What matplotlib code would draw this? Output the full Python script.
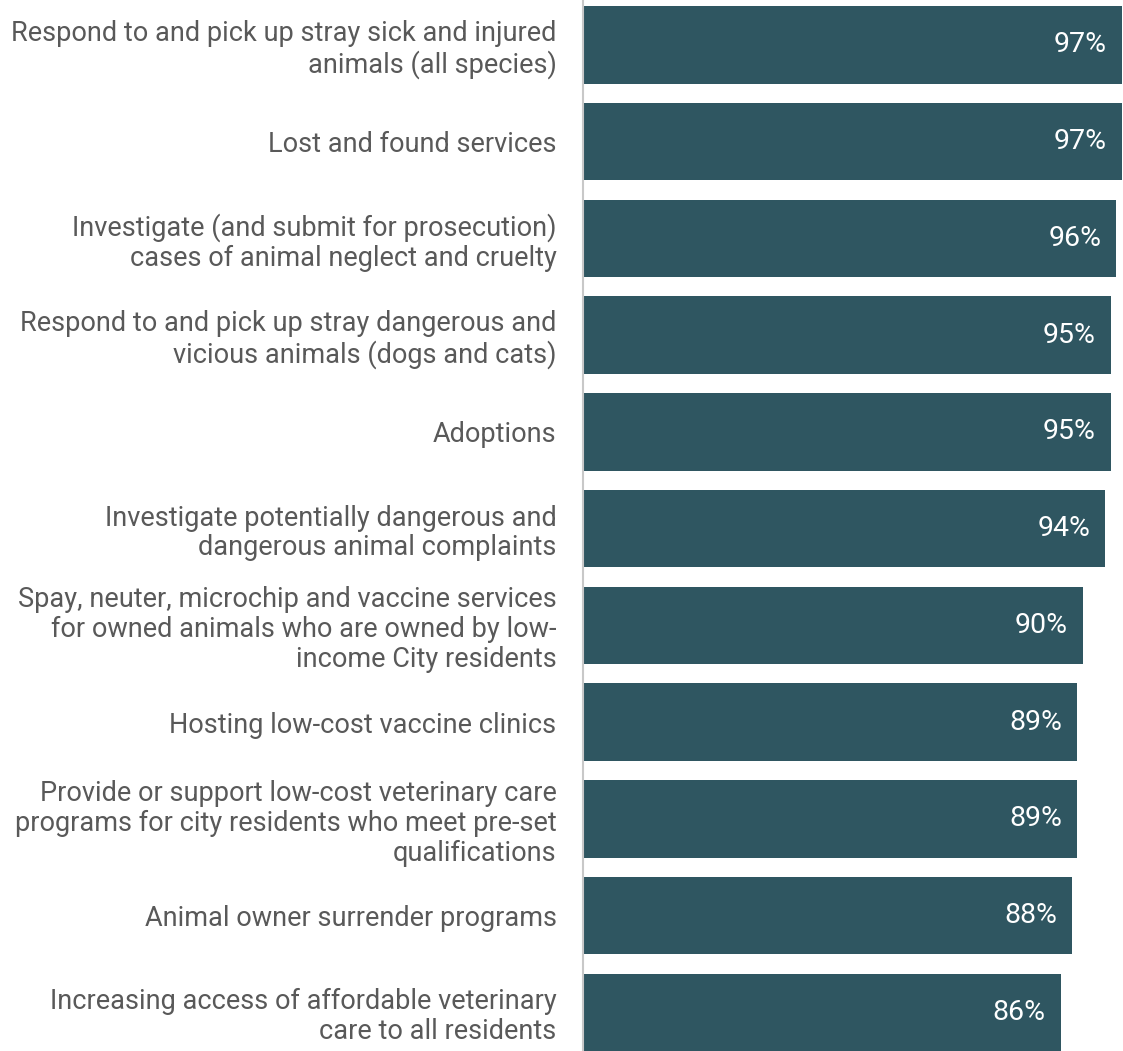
import matplotlib.pyplot as plt

plt.rcParams["font.family"] = ["Roboto", "DejaVu Sans"]

services = [
    "Respond to and pick up stray sick and injured\nanimals (all species)",
    "Lost and found services",
    "Investigate (and submit for prosecution)\ncases of animal neglect and cruelty",
    "Respond to and pick up stray dangerous and\nvicious animals (dogs and cats)",
    "Adoptions",
    "Investigate potentially dangerous and\ndangerous animal complaints",
    "Spay, neuter, microchip and vaccine services\nfor owned animals who are owned by low-\nincome City residents",
    "Hosting low-cost vaccine clinics",
    "Provide or support low-cost veterinary care\nprograms for city residents who meet pre-set\nqualifications",
    "Animal owner surrender programs",
    "Increasing access of affordable veterinary\ncare to all residents",
]
support = [97, 97, 96, 95, 95, 94, 90, 89, 89, 88, 86]

BAR = "#2F5661"
TXT = "#595959"

fig = plt.figure(figsize=(11.23, 10.51), dpi=100)
ax = fig.add_axes([583 / 1123, 0, 1 - 583 / 1123, 1])

pos = list(range(len(services)))
ax.barh(pos, support, height=0.8, color=BAR)
ax.set_xlim(0, 97.2)
ax.set_ylim(10.40, -0.465)

for y, v in zip(pos, support):
    ax.text(v - 2.7, y, f"{v}%", ha="right", va="center",
            color="white", fontsize=20.5)

ax.set_yticks(pos)
ax.set_yticklabels(services, fontsize=19.5, color=TXT, linespacing=1.13)
ax.tick_params(axis="y", length=0, pad=19)
ax.set_xticks([])

for s in ["top", "right", "bottom"]:
    ax.spines[s].set_visible(False)
ax.spines["left"].set_color("#C8C8C8")
ax.spines["left"].set_linewidth(1.5)

fig.savefig("out.png", dpi=100)
